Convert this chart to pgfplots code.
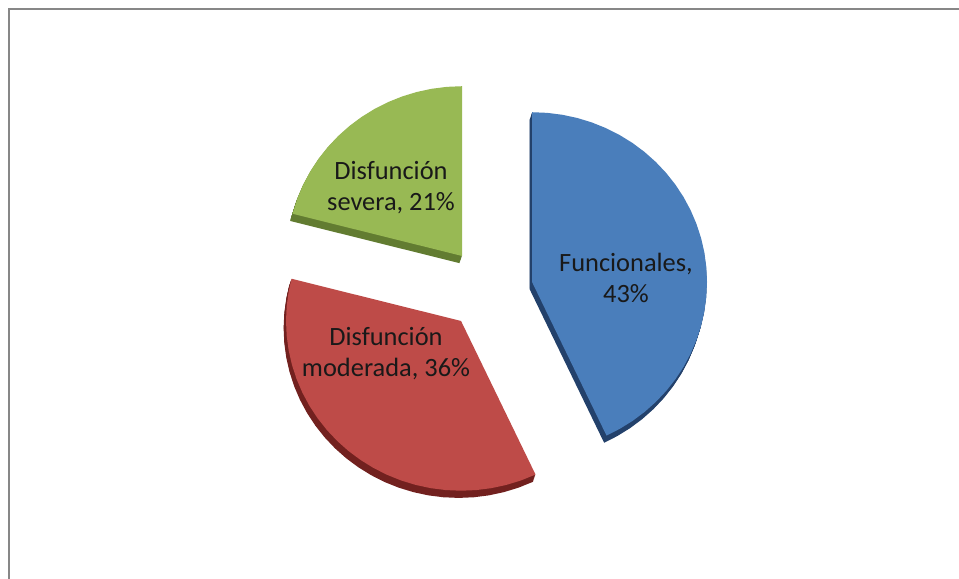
\documentclass[border=0pt]{standalone}
\usepackage{pgfplots}
\usepackage{pgfplotstable}
\pgfplotsset{compat=1.18}
\usepackage{fontspec}
\setmainfont{Carlito}
\definecolor{bluetop}{HTML}{4A7EBB}
\definecolor{blueside}{HTML}{23416B}
\definecolor{redtop}{HTML}{BE4B48}
\definecolor{redside}{HTML}{72211F}
\definecolor{greentop}{HTML}{98B954}
\definecolor{greenside}{HTML}{627C31}
\definecolor{framegray}{HTML}{878787}
% Wedges in polar form (angle in degrees, radius): apex + arc.
% Funcionales 43% -> 154.8 deg, Disfuncion moderada 36% -> 129.6 deg, Disfuncion severa 21% -> 75.6 deg
\pgfplotstableread{
a r
0 0
90 175
85 175
80 175
75 175
70 175
65 175
60 175
55 175
50 175
45 175
40 175
35 175
30 175
25 175
20 175
15 175
10 175
5 175
0 175
-5 175
-10 175
-15 175
-20 175
-25 175
-30 175
-35 175
-40 175
-45 175
-50 175
-55 175
-60 175
-64.8 175
}\bluetab
\pgfplotstableread{
a r
0 0
-64.8 175
-70 175
-75 175
-80 175
-85 175
-90 175
-95 175
-100 175
-105 175
-110 175
-115 175
-120 175
-125 175
-130 175
-135 175
-140 175
-145 175
-150 175
-155 175
-160 175
-165 175
-170 175
-175 175
-180 175
-185 175
-190 175
-194.4 175
}\redtab
\pgfplotstableread{
a r
0 0
165.6 175
160 175
155 175
150 175
145 175
140 175
135 175
130 175
125 175
120 175
115 175
110 175
105 175
100 175
95 175
90 175
}\greentab
\begin{document}
\begin{tikzpicture}
\begin{axis}[
  x=1bp, y=1bp,
  xmin=0, xmax=959, ymin=-579, ymax=0,
  hide axis, clip=false,
  data cs=polar,
]
\coordinate (bl) at (axis cs:0,-579);
\coordinate (tr) at (axis cs:959,0);
% sides (depth)
\pgfplotsinvokeforeach{1,...,8}{
  \addplot[fill=blueside, draw=none, xshift=532bp-0.3bp*#1, yshift=-264.6bp-0.9bp*#1, yscale=0.97] table[x=a,y=r] {\bluetab} -- cycle;
  \addplot[fill=redside, draw=none, xshift=461bp-0.3bp*#1, yshift=-303.6bp-0.9bp*#1, yscale=0.97] table[x=a,y=r] {\redtab} -- cycle;
  \addplot[fill=greenside, draw=none, xshift=462bp-0.3bp*#1, yshift=-238.6bp-0.9bp*#1, yscale=0.97] table[x=a,y=r] {\greentab} -- cycle;
}
% top faces
\addplot[fill=bluetop, draw=none, xshift=532bp, yshift=-264.6bp, yscale=0.97] table[x=a,y=r] {\bluetab} -- cycle;
\addplot[fill=redtop, draw=none, xshift=461bp, yshift=-303.6bp, yscale=0.97] table[x=a,y=r] {\redtab} -- cycle;
\addplot[fill=greentop, draw=none, xshift=462bp, yshift=-238.6bp, yscale=0.97] table[x=a,y=r] {\greentab} -- cycle;
\end{axis}
\begin{axis}[
  x=1bp, y=1bp,
  xmin=0, xmax=959, ymin=-579, ymax=0,
  hide axis, clip=false,
]
\draw[framegray, line width=2.5bp] (axis cs:8.8,-579) -- (axis cs:8.8,-9.2) -- (axis cs:959,-9.2);
\node[align=center, text=black!90, font=\fontsize{26.5}{31}\selectfont] at (axis cs:626,-278) {Funcionales,\\43\%};
\node[align=center, text=black!90, font=\fontsize{26.5}{31}\selectfont] at (axis cs:386,-354) {Disfunción\\moderada, 36\%};
\node[align=center, text=black!90, font=\fontsize{26.5}{31}\selectfont] at (axis cs:391,-188) {Disfunción\\severa, 21\%};
\end{axis}
\pgfresetboundingbox
\useasboundingbox (bl) rectangle (tr);
\end{tikzpicture}
\end{document}
